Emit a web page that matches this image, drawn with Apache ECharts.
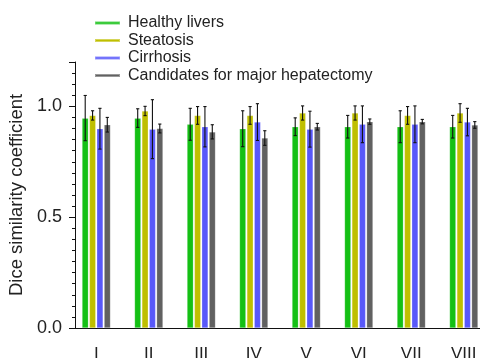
<!DOCTYPE html>
<html><head><meta charset="utf-8">
<script src="https://cdn.jsdelivr.net/npm/echarts@6/dist/echarts.min.js"></script>
<style>html,body{margin:0;padding:0;background:#fff}#c{width:480px;height:358px}</style>
</head><body><div id="c"></div>
<script>
const categories = ['I','II','III','IV','V','VI','VII','VIII'];
const seriesNames = ['Healthy livers','Steatosis','Cirrhosis','Candidates for major hepatectomy'];
const healthyMean = [0.947,0.947,0.919,0.899,0.908,0.908,0.908,0.908];
const healthySD   = [0.102,0.042,0.072,0.081,0.040,0.051,0.072,0.051];
const steatosisMean = [0.959,0.979,0.959,0.959,0.970,0.970,0.959,0.970];
const steatosisSD   = [0.021,0.021,0.040,0.040,0.032,0.032,0.040,0.042];
const cirrhosisMean = [0.899,0.897,0.908,0.929,0.897,0.919,0.919,0.929];
const cirrhosisSD   = [0.092,0.133,0.091,0.083,0.081,0.083,0.083,0.062];
const candidateMean = [0.917,0.900,0.885,0.857,0.908,0.931,0.931,0.916];
const candidateSD   = [0.033,0.020,0.032,0.033,0.015,0.012,0.010,0.015];
const yTicks = [0, 0.5, 1.0];

const means = [healthyMean, steatosisMean, cirrhosisMean, candidateMean];
const sds = [healthySD, steatosisSD, cirrhosisSD, candidateSD];
const colors = ['#14c014','#bfbf00','#5858fa','#616161'];
const BW = 6.4, GAP = 0.15;
const FONT = 'Liberation Sans';

const series = [];
seriesNames.forEach((n, i) => {
  series.push({
    name: n, type: 'bar', data: means[i], barWidth: BW, barGap: (GAP*100)+'%',
    itemStyle: {color: colors[i], borderColor: 'rgba(255,255,255,0.35)', borderWidth: 0.6},
    z: 2
  });
});
seriesNames.forEach((n, i) => {
  const total = 4*BW + 3*GAP*BW;
  const off = -total/2 + BW/2 + i*(BW + GAP*BW);
  series.push({
    type: 'custom', silent: true, z: 5,
    data: categories.map((c, k) => [k, means[i][k], sds[i][k]]),
    encode: {x: 0, y: 1},
    renderItem: function(params, api) {
      const k = api.value(0), m = api.value(1), s = api.value(2);
      const hi = api.coord([k, m + s]);
      const lo = api.coord([k, m - s]);
      const x = hi[0] + off;
      const st = {stroke: '#111', lineWidth: 1.1};
      return {type: 'group', children: [
        {type: 'line', shape: {x1: x, y1: hi[1], x2: x, y2: lo[1]}, style: st},
        {type: 'line', shape: {x1: x-1.6, y1: hi[1], x2: x+1.6, y2: hi[1]}, style: st},
        {type: 'line', shape: {x1: x-1.6, y1: lo[1], x2: x+1.6, y2: lo[1]}, style: st}
      ]};
    }
  });
});

const chart = echarts.init(document.getElementById('c'), null, {renderer: 'canvas'});
chart.setOption({
  animation: false,
  backgroundColor: '#fff',
  textStyle: {fontFamily: FONT},
  legend: {
    orient: 'vertical', left: 89, top: 10, itemGap: 1.5,
    itemWidth: 25, itemHeight: 3, icon: 'rect',
    data: seriesNames,
    textStyle: {fontFamily: FONT, fontSize: 16, color: '#222', padding: [0,0,0,3]}
  },
  grid: {left: 70, right: -10, top: 62, bottom: 30, containLabel: false, outerBoundsMode: 'none'},
  xAxis: {
    type: 'category', data: categories,
    axisLine: {lineStyle: {color: '#111', width: 1}},
    axisTick: {alignWithLabel: true, length: 6, lineStyle: {color: '#111'}},
    axisLabel: {fontFamily: FONT, fontSize: 17, color: '#222', margin: 18}
  },
  yAxis: {
    type: 'value', min: 0, max: 1.2, interval: 0.5, offset: -5,
    name: 'Dice similarity coefficient', nameLocation: 'middle', nameGap: 49,
    nameTextStyle: {fontFamily: FONT, fontSize: 18.5, color: '#222'},
    axisLine: {show: true, lineStyle: {color: '#111', width: 1}},
    axisTick: {show: true, length: 6, lineStyle: {color: '#111'}},
    minorTick: {show: true, splitNumber: 10, length: 3, lineStyle: {color: '#111'}},
    splitLine: {show: false},
    axisLabel: {fontFamily: FONT, fontSize: 18, color: '#222', margin: 13, showMaxLabel: false,
      formatter: v => (yTicks.some(t => Math.abs(t - v) < 1e-9) ? v.toFixed(1) : '')}
  },
  series: series
});
</script></body></html>
